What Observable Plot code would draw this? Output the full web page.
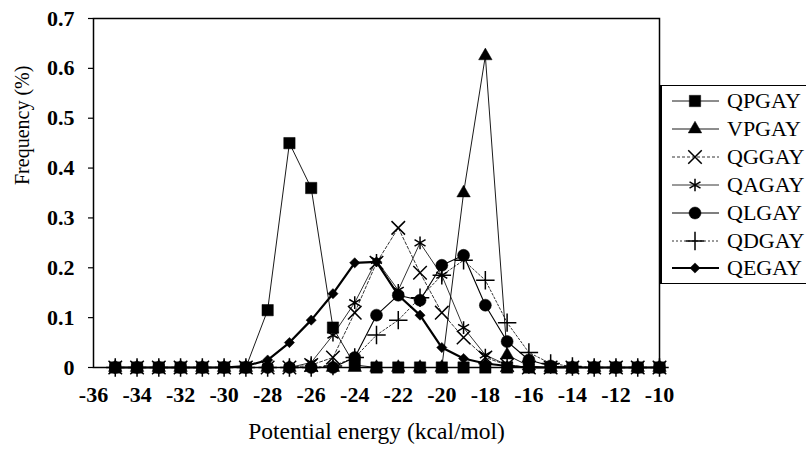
<!DOCTYPE html>
<html><head><meta charset="utf-8">
<script src="https://cdn.jsdelivr.net/npm/d3@7"></script>
<script src="https://cdn.jsdelivr.net/npm/@observablehq/plot@0.6"></script>
<style>
body{margin:0;background:#fff;}
#wrap{position:relative;width:806px;height:450px;overflow:hidden;}
#wrap svg text{font-family:"Liberation Serif","Times New Roman",serif;}
g[aria-label="x-axis tick label"], g[aria-label="y-axis tick label"]{font-weight:bold;font-size:22px;}
#legend{position:absolute;left:660px;top:85px;width:170px;height:199px;border:1.5px solid #000;border-left-width:2.5px;box-sizing:border-box;background:#fff;}
.entry{position:absolute;left:0;height:26px;display:flex;align-items:center;}
.entry span{font-family:"Liberation Serif","Times New Roman",serif;font-size:22px;margin-left:3px;color:#000;}
</style>
</head><body><div id="wrap"></div>
<script>
// ---- data ----
const energies = [-35,-34,-33,-32,-31,-30,-29,-28,-27,-26,-25,-24,-23,-22,-21,-20,-19,-18,-17,-16,-15,-14,-13,-12,-11,-10];
const seriesNames = ["QPGAY","VPGAY","QGGAY","QAGAY","QLGAY","QDGAY","QEGAY"];
const QPGAY = [0,0,0,0,0,0,0,0.115,0.45,0.36,0.08,0.005,0,0,0,0,0,0,0,0,0,0,0,0,0,0];
const VPGAY = [0,0,0,0,0,0,0,0,0,0,0,0,0,0,0,0,0.35,0.625,0.025,0.003,0,0,0,0,0,0];
const QGGAY = [0,0,0,0,0,0,0,0,0,0.005,0.02,0.11,0.21,0.28,0.19,0.11,0.06,0.02,0.005,0,0,0,0,0,0,0];
const QAGAY = [0,0,0,0,0,0,0,0,0,0.01,0.065,0.13,0.215,0.155,0.25,0.185,0.08,0.025,0.005,0,0,0,0,0,0,0];
const QLGAY = [0,0,0,0,0,0,0,0,0,0,0,0.02,0.105,0.145,0.135,0.205,0.225,0.125,0.052,0.015,0.003,0,0,0,0,0];
const QDGAY = [0,0,0,0,0,0,0,0,0,0,0.003,0.02,0.065,0.095,0.14,0.185,0.215,0.175,0.09,0.03,0.008,0.002,0,0,0,0];
const QEGAY = [0,0,0,0,0,0,0.003,0.015,0.05,0.095,0.148,0.21,0.212,0.145,0.105,0.04,0.018,0.008,0.003,0,0,0,0,0,0,0];
const seriesValues = [QPGAY,VPGAY,QGGAY,QAGAY,QLGAY,QDGAY,QEGAY];
const xTicks = [-36,-34,-32,-30,-28,-26,-24,-22,-20,-18,-16,-14,-12,-10];
const yTicks = [0,0.1,0.2,0.3,0.4,0.5,0.6,0.7];

// ---- styles ----
const styles = {
  QPGAY:{symbol:"square",   d3sym:d3.symbolSquare,   r:6.4, filled:true,  width:0.9, dash:null},
  VPGAY:{symbol:"triangle", d3sym:d3.symbolTriangle, r:5.0, filled:true,  width:0.9, dash:null},
  QGGAY:{symbol:"times",    d3sym:d3.symbolTimes,    r:6.2, filled:false, width:0.8, dash:"3,2"},
  QAGAY:{symbol:"asterisk", d3sym:d3.symbolAsterisk, r:6.0, filled:false, width:0.8, dash:null},
  QLGAY:{symbol:"circle",   d3sym:d3.symbolCircle,   r:6.0, filled:true,  width:1.1, dash:null},
  QDGAY:{symbol:"plus",     d3sym:d3.symbolPlus,     r:6.0, filled:false, width:0.8, dash:"2,2"},
  QEGAY:{symbol:"diamond2", d3sym:d3.symbolDiamond2, r:4.6, filled:true,  width:2.2, dash:null}
};

const rows = [];
seriesNames.forEach((name, i) => {
  seriesValues[i].forEach((v, j) => rows.push({name, energy: energies[j], freq: v}));
});

const marks = [];
[...seriesNames].reverse().forEach(name => {
  const s = styles[name];
  const data = rows.filter(d => d.name === name);
  marks.push(Plot.line(data, {x:"energy", y:"freq", stroke:"black", strokeWidth:s.width, strokeDasharray:s.dash}));
});
[...seriesNames].reverse().forEach(name => {
  const s = styles[name];
  const data = rows.filter(d => d.name === name);
  marks.push(Plot.dot(data, {x:"energy", y:"freq", symbol:s.symbol, r:s.r,
    fill: s.filled ? "black" : "none", stroke:"black", strokeWidth: s.filled ? 0.5 : 1.5}));
});

const yFmt = d => d === 0 ? "0" : d3.format(".1f")(d);
const chart = Plot.plot({
  width:806, height:450,
  marginLeft:93, marginRight:147, marginTop:18, marginBottom:83,
  style:{background:"white", color:"black"},
  x:{domain:[-36,-10], label:null},
  y:{domain:[0,0.7], label:null},
  marks:[
    Plot.axisX({ticks:xTicks, tickFormat:d => String(d), tickSize:0, tickPadding:19, label:null}),
    Plot.axisY({ticks:yTicks, tickFormat:yFmt, tickSize:5, tickPadding:14, label:null, strokeWidth:1.2}),
    ...marks,
    Plot.frame({stroke:"black", strokeWidth:1.5}),
    Plot.text(["Potential energy (kcal/mol)"], {frameAnchor:"bottom", dy:71, fontSize:23.5, fill:"black"}),
    Plot.text(["Frequency (%)"], {frameAnchor:"left", dx:-71, dy:-8, rotate:-90, fontSize:20, fill:"black"})
  ]
});
const wrap = document.getElementById("wrap");
wrap.appendChild(chart);

// ---- legend ----
const legend = document.createElement("div");
legend.id = "legend";
seriesNames.forEach((name, i) => {
  const s = styles[name];
  const e = document.createElement("div");
  e.className = "entry";
  e.style.top = (15 + i * 27.9 - 13) + "px";
  const svg = d3.create("svg").attr("width", 62).attr("height", 26);
  svg.append("line").attr("x1", 10).attr("x2", 57).attr("y1", 13).attr("y2", 13)
    .attr("stroke", "black").attr("stroke-width", s.width).attr("stroke-dasharray", s.dash);
  svg.append("path").attr("transform", "translate(33,13)")
    .attr("d", d3.symbol(s.d3sym, Math.PI * s.r * s.r)())
    .attr("fill", s.filled ? "black" : "none").attr("stroke", "black")
    .attr("stroke-width", s.filled ? 0.5 : 1.5);
  e.appendChild(svg.node());
  const t = document.createElement("span");
  t.textContent = name;
  e.appendChild(t);
  legend.appendChild(e);
});
wrap.appendChild(legend);
</script>
</body></html>
